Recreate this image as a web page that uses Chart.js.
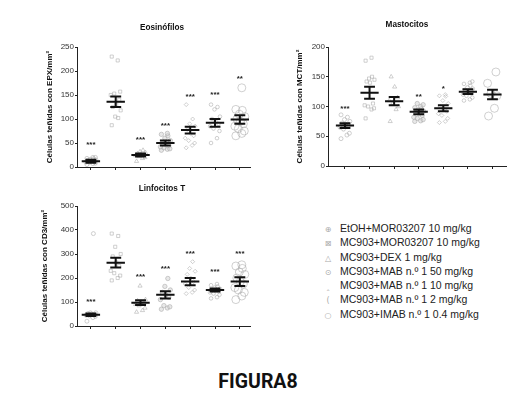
<!DOCTYPE html>
<html>
<head>
<meta charset="utf-8">
<script src="https://cdn.jsdelivr.net/npm/chart.js@4.4.1/dist/chart.umd.min.js"></script>
<style>
    body { margin: 0; background: #fff; }
    #page { position: relative; width: 522px; height: 407px; background: #fff; overflow: hidden; }
    .panel { position: absolute; }
    #legend { position: absolute; left: 316px; top: 221px; font: 10.5px "Liberation Sans", Arial, sans-serif; color: #222; }
    #legend div { height: 14.3px; line-height: 14.3px; white-space: nowrap; }
    #legend span { display: inline-block; width: 24px; text-align: center; color: #aaa; font-family: "DejaVu Sans"; font-size: 8px; }
    #figTitle { position: absolute; left: 0; width: 516px; top: 370px; text-align: center;
        font: bold 19.5px Roboto, "Liberation Sans", sans-serif; color: #111; }
</style>
</head>
<body>
<div id="page">
    <canvas id="eosChart" class="panel" style="left:0;top:0;width:260px;height:180px"></canvas>
    <canvas id="mastChart" class="panel" style="left:260px;top:0;width:262px;height:180px"></canvas>
    <canvas id="linfChart" class="panel" style="left:0;top:180px;width:260px;height:160px"></canvas>
    <div id="legend"></div>
    <div id="figTitle">FIGURA8</div>
</div>
<script>
// Groups (same order in every panel)
const groups = [
    'EtOH+MOR03207 10 mg/kg',
    'MC903+MOR03207 10 mg/kg',
    'MC903+DEX 1 mg/kg',
    'MC903+MAB n.\u00ba 1 50 mg/kg',
    'MC903+MAB n.\u00ba 1 10 mg/kg',
    'MC903+MAB n.\u00ba 1 2 mg/kg',
    'MC903+IMAB n.\u00ba 1 0.4 mg/kg'
];
const legendMarks = ['\u2295', '\u22a0', '\u25b3', '\u2299', '\u2038', '(', '\u25cb'];

// Eosinófilos - células EPX/mm²
const eosTicks = [0, 50, 100, 150, 200, 250];
const eosPoints = [
    [5, 7, 8, 10, 10, 12, 13, 14, 15, 16, 17, 18, 20, 20],
    [230, 222, 157, 153, 150, 140, 130, 125, 118, 105, 102, 87],
    [12, 18, 20, 22, 24, 25, 26, 28, 30, 32, 35],
    [35, 37, 38, 40, 42, 45, 48, 50, 55, 60, 65, 68, 70],
    [40, 45, 50, 55, 60, 65, 70, 78, 85, 90, 100, 130],
    [50, 60, 75, 80, 85, 90, 95, 100, 105, 120, 125, 130],
    [65, 70, 75, 80, 85, 90, 95, 100, 105, 110, 118, 120, 165]
];
const eosMean = [12, 136, 25, 50, 77, 92, 99];
const eosSem = [3, 11, 3, 5, 7, 8, 9];
const eosStars = ['***', '', '***', '***', '***', '***', '**'];
const eosStarAt = [50, 0, 61, 91, 150, 155, 188];

// Mastocitos - células MCT/mm²
const mastTicks = [0, 50, 100, 150, 200];
const mastPoints = [
    [46, 52, 55, 62, 65, 68, 70, 72, 75, 78, 82, 86],
    [80, 95, 97, 100, 102, 105, 140, 142, 145, 147, 150, 177, 182],
    [75, 95, 100, 105, 110, 115, 133, 150],
    [75, 76, 78, 80, 82, 85, 88, 90, 92, 94, 96, 98, 100, 103, 105],
    [73, 75, 80, 85, 88, 92, 95, 100, 105, 110, 117, 118, 120],
    [110, 112, 115, 118, 120, 122, 125, 128, 130, 132, 135, 138, 140, 142],
    [84, 97, 118, 122, 139, 158]
];
const mastMean = [68, 123, 109, 91, 97, 125, 120];
const mastSem = [4, 10, 7, 4, 5, 4, 8];
const mastStars = ['***', '', '', '**', '*', '', ''];
const mastStarAt = [99, 0, 0, 119, 133, 0, 0];

// Linfocitos T - células CD3/mm²
const linfTicks = [0, 100, 200, 300, 400, 500];
const linfPoints = [
    [20, 35, 40, 42, 45, 47, 50, 52, 55, 55, 385],
    [190, 200, 210, 220, 230, 250, 265, 290, 300, 330, 375, 385],
    [58, 65, 75, 85, 90, 95, 100, 105, 110, 167],
    [70, 75, 80, 85, 110, 120, 130, 140, 150, 165, 198],
    [135, 140, 150, 160, 175, 185, 200, 215, 228, 240, 268],
    [115, 120, 130, 135, 140, 145, 148, 150, 155, 160, 165, 170, 175],
    [110, 125, 140, 150, 160, 175, 185, 200, 215, 225, 240, 250, 255]
];
const linfMean = [47, 264, 97, 130, 185, 150, 185];
const linfSem = [5, 20, 10, 15, 15, 6, 18];
const linfStars = ['***', '', '***', '***', '***', '***', '***'];
const linfStarAt = [108, 0, 212, 247, 310, 236, 310];

// Marker look per group
const pointStyles = ['circle', 'rect', 'triangle', 'circle', 'rectRot', 'circle', 'circle'];
const pointSizes = [2, 2.2, 2.4, 2.2, 2, 1.8, 4];
const jitter = [-0.16, 0.08, 0.18, -0.06, -0.2, 0.14, 0.02, -0.12, 0.2, -0.02, 0.1];

// Mean + SEM bars and significance stars
const meanSemPlugin = {
    id: 'meanSem',
    afterDatasetsDraw(chart, args, opts) {
        const ctx = chart.ctx;
        const x = chart.scales.x, y = chart.scales.y;
        const half = x.getPixelForValue(1.37) - x.getPixelForValue(1);
        const cap = x.getPixelForValue(1.22) - x.getPixelForValue(1);
        ctx.save();
        ctx.strokeStyle = '#111';
        ctx.lineWidth = 2;
        opts.mean.forEach((m, i) => {
            const px = x.getPixelForValue(i + 1);
            const ym = y.getPixelForValue(m);
            const yt = y.getPixelForValue(m + opts.sem[i]);
            const yb = y.getPixelForValue(m - opts.sem[i]);
            ctx.beginPath();
            ctx.moveTo(px - half, ym); ctx.lineTo(px + half, ym);
            ctx.moveTo(px - cap, yt); ctx.lineTo(px + cap, yt);
            ctx.moveTo(px - cap, yb); ctx.lineTo(px + cap, yb);
            ctx.moveTo(px, yt); ctx.lineTo(px, yb);
            ctx.stroke();
        });
        ctx.fillStyle = '#222';
        ctx.font = 'bold 8px "Liberation Sans", Arial, sans-serif';
        ctx.textAlign = 'center';
        ctx.textBaseline = 'middle';
        opts.stars.forEach((s, i) => {
            if (s) ctx.fillText(s, x.getPixelForValue(i + 1), y.getPixelForValue(opts.starAt[i]) + 2);
        });
        ctx.restore();
    }
};

// Panel title drawn at a fixed spot of the canvas
const panelTitlePlugin = {
    id: 'panelTitle',
    afterDraw(chart, args, opts) {
        const ctx = chart.ctx;
        ctx.save();
        ctx.fillStyle = '#111';
        ctx.font = 'bold 8.2px "Liberation Sans", Arial, sans-serif';
        ctx.textAlign = 'center';
        ctx.textBaseline = 'middle';
        ctx.fillText(opts.text, opts.x, opts.y);
        ctx.restore();
    }
};

function makePanel(id, cfg) {
    const datasets = cfg.points.map((vals, g) => ({
        label: groups[g],
        data: vals.map((v, k) => ({ x: g + 1 + jitter[k % jitter.length], y: v })),
        pointStyle: pointStyles[g],
        pointRadius: pointSizes[g],
        pointBorderWidth: 0.7,
        pointBorderColor: 'rgba(165,165,165,0.75)',
        pointBackgroundColor: g === 3 ? 'rgba(210,210,210,0.5)' : 'rgba(255,255,255,0)',
        showLine: false
    }));

    new Chart(document.getElementById(id), {
        type: 'scatter',
        data: { datasets: datasets },
        options: {
            responsive: false,
            animation: false,
            events: [],
            layout: { padding: cfg.padding },
            plugins: {
                legend: { display: false },
                tooltip: { enabled: false },
                meanSem: { mean: cfg.mean, sem: cfg.sem, stars: cfg.stars, starAt: cfg.starAt },
                panelTitle: cfg.title
            },
            scales: {
                x: {
                    type: 'linear',
                    min: cfg.xMin,
                    max: cfg.xMax,
                    afterBuildTicks: s => { s.ticks = groups.map((g, i) => ({ value: i + 1 })); },
                    afterFit: s => { s.height = 8; },
                    ticks: { display: false },
                    grid: { display: true, drawOnChartArea: false, drawTicks: true, tickLength: 3, color: '#222', lineWidth: 1 },
                    border: { display: true, color: '#222', width: 1 }
                },
                y: {
                    min: 0,
                    max: cfg.ticks[cfg.ticks.length - 1],
                    afterBuildTicks: s => { s.ticks = cfg.ticks.map(v => ({ value: v })); },
                    afterFit: s => { s.width = cfg.axisX; },
                    ticks: {
                        padding: 1,
                        color: '#333',
                        font: { family: '"Liberation Sans", Arial, sans-serif', size: 8 }
                    },
                    grid: { display: true, drawOnChartArea: false, drawTicks: true, tickLength: 2, color: '#222', lineWidth: 1 },
                    border: { display: true, color: '#222', width: 1 },
                    title: {
                        display: true,
                        text: cfg.yTitle,
                        color: '#111',
                        padding: cfg.yTitlePad,
                        font: { family: '"Liberation Sans", Arial, sans-serif', size: 8, weight: 'bold' }
                    }
                }
            }
        },
        plugins: [meanSemPlugin, panelTitlePlugin]
    });
}

makePanel('eosChart', {
    points: eosPoints, mean: eosMean, sem: eosSem, stars: eosStars, starAt: eosStarAt,
    ticks: eosTicks, yTitle: 'C\u00e9lulas te\u00f1idas con EPX/mm\u00b2',
    title: { text: 'Eosin\u00f3filos', x: 162, y: 28 },
    axisX: 77, yTitlePad: 45, xMin: 0.44, xMax: 7.41,
    padding: { top: 47, right: 10, bottom: 5, left: 0 }
});

makePanel('mastChart', {
    points: mastPoints, mean: mastMean, sem: mastSem, stars: mastStars, starAt: mastStarAt,
    ticks: mastTicks, yTitle: 'C\u00e9lulas te\u00f1idas con MCT/mm\u00b2',
    title: { text: 'Mastocitos', x: 147, y: 25 },
    axisX: 68, yTitlePad: 35, xMin: 0.31, xMax: 7.55,
    padding: { top: 47, right: 16, bottom: 6, left: 0 }
});

makePanel('linfChart', {
    points: linfPoints, mean: linfMean, sem: linfSem, stars: linfStars, starAt: linfStarAt,
    ticks: linfTicks, yTitle: 'C\u00e9lulas te\u00f1idas con CD3/mm\u00b2',
    title: { text: 'Linfocitos T', x: 162, y: 9 },
    axisX: 77, yTitlePad: 40, xMin: 0.44, xMax: 7.41,
    padding: { top: 26, right: 10, bottom: 6, left: 0 }
});

// Legend
const legendBox = document.getElementById('legend');
groups.forEach((g, i) => {
    const row = document.createElement('div');
    row.innerHTML = '<span>' + legendMarks[i] + '</span>' + g;
    legendBox.appendChild(row);
});
</script>
</body>
</html>
